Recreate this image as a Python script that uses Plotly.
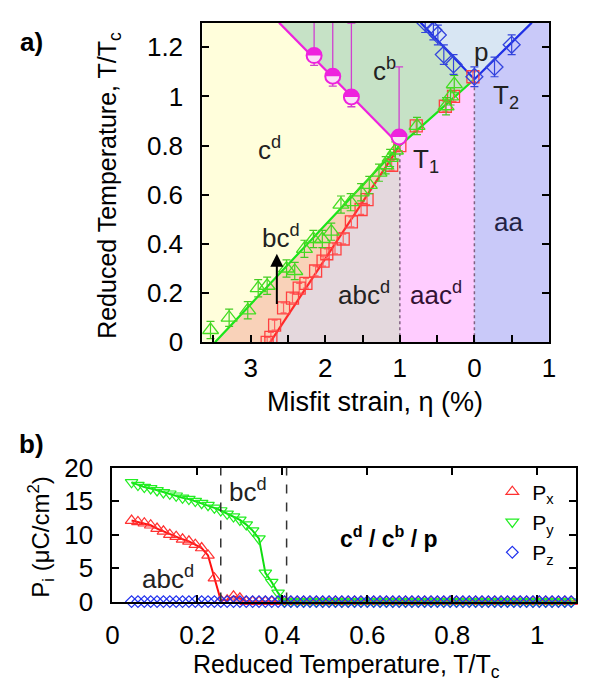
import numpy as np
import plotly.graph_objects as go

FONT = "Liberation Sans, Arial, sans-serif"
W, H = 595, 697

# ---------------- panel (a): phase diagram ----------------
ETA_MIN, ETA_MAX, T_MAX = -3.65, 1.0, 1.3

# phase boundaries (misfit strain eta, reduced temperature T/Tc)
green_eta = [-3.48, -1.0, 0.0]
green_T = [0.0, 0.80, 1.07]
red_eta = [-2.74, -1.0]
red_T = [0.0, 0.80]
mag_eta = [-2.62, -1.0]
mag_T = [1.30, 0.80]
blue_eta = [-0.72, 0.0, 0.77]
blue_T = [1.30, 1.07, 1.30]

# simulation points
g_eta = [-3.54, -3.29, -3.04, -2.90, -2.78, -2.52, -2.41, -2.28, -2.16, -2.04, -1.92, -1.79,
         -1.66, -1.52, -1.41, -1.28, -1.19, -1.13, -1.06, -0.77, -0.38, -0.32, -0.27]
g_T = [0.05, 0.10, 0.13, 0.22, 0.23, 0.30, 0.29, 0.38, 0.42, 0.42, 0.45, 0.56,
       0.57, 0.61, 0.64, 0.69, 0.72, 0.75, 0.78, 0.88, 0.96, 1.00, 1.05]
r_eta = [-2.78, -2.73, -2.68, -2.56, -2.44, -2.35, -2.26, -2.13, -2.03, -1.98, -1.87,
         -1.76, -1.65, -1.52, -1.44, -1.11, -1.00, -0.78, -0.39, -0.28, -0.02]
r_T = [0.00, 0.02, 0.07, 0.14, 0.18, 0.22, 0.24, 0.29, 0.33, 0.36, 0.38,
       0.42, 0.49, 0.54, 0.58, 0.72, 0.80, 0.88, 0.96, 1.00, 1.08]
b_eta = [-0.66, -0.55, -0.49, -0.41, -0.28, 0.00, 0.27, 0.50]
b_T = [1.30, 1.27, 1.25, 1.17, 1.13, 1.08, 1.12, 1.21]
m_eta = [-2.15, -1.90, -1.65, -1.01]
m_T = [1.166, 1.082, 0.998, 0.835]
m_err_up = [0.30, 0.30, 0.30, 0.285]
m_err_dn = [0.04, 0.04, 0.04, 0.02]

eta_ticks = [-3, -2, -1, 0, 1]
eta_ticktext = ["3", "2", "1", "0", "1"]
T_ticks = [0, 0.2, 0.4, 0.6, 0.8, 1.0, 1.2]
T_ticktext = ["0", "0.2", "0.4", "0.6", "0.8", "1", "1.2"]

# ---------------- panel (b): polarization vs temperature ----------------
T_red = [0.045, 0.060, 0.075, 0.090, 0.105, 0.120, 0.135, 0.150, 0.165, 0.180,
         0.195, 0.210, 0.225, 0.240, 0.255, 0.270, 0.285, 0.300, 0.315, 0.330,
         0.345, 0.360, 0.375, 0.390, 0.405, 0.420, 0.435, 0.450, 0.465, 0.480,
         0.495, 0.510, 0.525, 0.540, 0.555, 0.570, 0.585, 0.600, 0.615, 0.630,
         0.645, 0.660, 0.675, 0.690, 0.705, 0.720, 0.735, 0.750, 0.765, 0.780,
         0.795, 0.810, 0.825, 0.840, 0.855, 0.870, 0.885, 0.900, 0.915, 0.930,
         0.945, 0.960, 0.975, 0.990, 1.005, 1.020, 1.035, 1.050, 1.065, 1.080,
         1.095]
Px = [12.1, 11.9, 11.7, 11.4, 10.9, 10.5, 10.0, 9.7, 9.3, 9.0,
      8.5, 8.0, 6.9, 3.5, 0.2, 0.2, 0.8, 0.5] + [0.0] * 53
Py = [17.8, 17.4, 17.1, 16.9, 16.6, 16.3, 16.1, 15.8, 15.5, 15.3,
      15.0, 14.7, 14.4, 14.0, 13.6, 13.1, 12.7, 12.2, 11.5, 10.6,
      9.4, 4.3, 2.9, 1.3] + [0.0] * 47
Pz = [0.0] * 71
phase_edges_b = [0.255, 0.41]

RED, GREEN, BLUE, MAG = "#ff2a2a", "#19e619", "#1f2fe6", "#ee22dd"

# plot-area geometry in pixels (used for domains and marker half-disks)
A_L, A_R, A_T, A_B = 200, 555, 8, 342
B_L, B_R, B_T, B_B = 108, 583, 473, 613

fig = go.Figure()

# ---- phase regions ----
Jx, Jy = green_eta[1], green_T[1]
Px0, Py0 = blue_eta[1], blue_T[1]
regions = [
    ("#fffedb", [ETA_MIN, green_eta[0], Jx, mag_eta[0], ETA_MIN], [0, 0, Jy, T_MAX, T_MAX]),
    ("#f9d2b9", [green_eta[0], red_eta[0], Jx], [0, 0, Jy]),
    ("#e4d8dd", [red_eta[0], Jx, Jx], [0, 0, Jy]),
    ("#ffccff", [Jx, Px0, Px0, Jx], [0, 0, Py0, Jy]),
    ("#c9c9f9", [Px0, ETA_MAX, ETA_MAX, blue_eta[2], Px0], [0, 0, T_MAX, T_MAX, Py0]),
    ("#d8e6f3", [blue_eta[0], Px0, blue_eta[2]], [T_MAX, Py0, T_MAX]),
    ("#c6e2c6", [mag_eta[0], Jx, Px0, blue_eta[0]], [T_MAX, Jy, Py0, T_MAX]),
]
for col, xs, ys in regions:
    fig.add_trace(go.Scatter(x=xs, y=ys, fill="toself", fillcolor=col, mode="lines",
                             line=dict(width=0), hoverinfo="skip", showlegend=False,
                             xaxis="x", yaxis="y"))

# dotted vertical boundaries
for xv, yv in [(Jx, Jy), (Px0, Py0)]:
    fig.add_trace(go.Scatter(x=[xv, xv], y=[0, yv], mode="lines",
                             line=dict(color="#806080", width=1.5, dash="dot"),
                             showlegend=False, xaxis="x", yaxis="y"))

# boundary lines
for xs, ys, col in [(red_eta, red_T, RED), (green_eta, green_T, GREEN),
                    (mag_eta, mag_T, MAG), (blue_eta, blue_T, BLUE)]:
    fig.add_trace(go.Scatter(x=xs, y=ys, mode="lines", line=dict(color=col, width=2.2),
                             showlegend=False, xaxis="x", yaxis="y"))

# data points with error bars
fig.add_trace(go.Scatter(x=r_eta, y=r_T, mode="markers",
                         marker=dict(symbol="square-open", size=12, color="#ff4040", line=dict(width=1.3)),
                         error_y=dict(type="constant", value=0.02, color="#ff6060", thickness=1.2, width=3),
                         showlegend=False, xaxis="x", yaxis="y"))
fig.add_trace(go.Scatter(x=g_eta, y=g_T, mode="markers",
                         marker=dict(symbol="triangle-up-open", size=14, color="#44dd22", line=dict(width=1.3)),
                         error_y=dict(type="constant", value=0.035, color="#44cc22", thickness=1.2, width=4),
                         showlegend=False, xaxis="x", yaxis="y"))
fig.add_trace(go.Scatter(x=b_eta, y=b_T, mode="markers",
                         marker=dict(symbol="diamond-open", size=13, color="#3344dd", line=dict(width=1.3)),
                         error_y=dict(type="constant", value=0.04, color="#3344dd", thickness=1.2, width=4),
                         showlegend=False, xaxis="x", yaxis="y"))
fig.add_trace(go.Scatter(x=m_eta, y=m_T, mode="markers",
                         marker=dict(symbol="circle", size=15, color="#fbe0f7",
                                     line=dict(color=MAG, width=2)),
                         error_y=dict(type="data", array=m_err_up, arrayminus=m_err_dn,
                                      color="#d040d0", thickness=1.3, width=4),
                         showlegend=False, xaxis="x", yaxis="y"))
# upper half of each magenta symbol is solid
r_px = 8.0
rx = r_px * (ETA_MAX - ETA_MIN) / (A_R - A_L)
ry = r_px * T_MAX / (A_B - A_T)
th = np.linspace(0, np.pi, 25)
for xe, yt in zip(m_eta, m_T):
    fig.add_trace(go.Scatter(x=xe + rx * np.cos(th), y=yt + ry * np.sin(th), fill="toself",
                             fillcolor=MAG, mode="lines", line=dict(width=0),
                             hoverinfo="skip", showlegend=False, xaxis="x", yaxis="y"))

# ---- panel (b) traces ----
fig.add_trace(go.Scatter(x=T_red, y=Px, mode="lines", line=dict(color="#ff1010", width=2),
                         showlegend=False, xaxis="x2", yaxis="y2", cliponaxis=False))
fig.add_trace(go.Scatter(x=T_red, y=Py, mode="lines", line=dict(color="#10dd10", width=2),
                         showlegend=False, xaxis="x2", yaxis="y2", cliponaxis=False))
fig.add_trace(go.Scatter(x=T_red, y=Px, mode="markers", name="P<sub>x</sub>",
                         marker=dict(symbol="triangle-up-open", size=11, color="#ff3030", line=dict(width=1.2)),
                         xaxis="x2", yaxis="y2", cliponaxis=False))
fig.add_trace(go.Scatter(x=T_red, y=Py, mode="markers", name="P<sub>y</sub>",
                         marker=dict(symbol="triangle-down-open", size=11, color="#22ee22", line=dict(width=1.2)),
                         xaxis="x2", yaxis="y2", cliponaxis=False))
fig.add_trace(go.Scatter(x=T_red, y=Pz, mode="markers", name="P<sub>z</sub>",
                         marker=dict(symbol="diamond-open", size=9, color="#2233ee", line=dict(width=1.2)),
                         xaxis="x2", yaxis="y2", cliponaxis=False))

shapes = []
for xv in phase_edges_b:
    shapes.append(dict(type="line", xref="x2", yref="y2 domain", x0=xv, x1=xv, y0=0, y1=1,
                       line=dict(color="#333333", width=1.5, dash="dash")))

LBL = 26
def lab(text, x, y, color="#222222", size=LBL, xref="x", yref="y", **kw):
    return dict(text=text, x=x, y=y, xref=xref, yref=yref, showarrow=False,
                xanchor="center", yanchor="middle",
                font=dict(family=FONT, size=size, color=color), **kw)

annotations = [
    lab("c<sup>d</sup>", -2.75, 0.79),
    lab("c<sup>b</sup>", -1.2, 1.11),
    lab("p", 0.09, 1.18),
    lab("T<sub>2</sub>", 0.42, 1.0),
    lab("T<sub>1</sub>", -0.65, 0.74),
    lab("aa", 0.46, 0.49, color="#222244"),
    lab("aac<sup>d</sup>", -0.52, 0.2, color="#331133"),
    lab("abc<sup>d</sup>", -1.48, 0.2),
    lab("bc<sup>d</sup>", -2.6, 0.43),
    dict(x=-2.65, y=0.36, ax=-2.65, ay=0.15, xref="x", yref="y", axref="x", ayref="y",
         showarrow=True, arrowhead=2, arrowsize=1.3, arrowwidth=2, arrowcolor="black", text=""),
    # panel (b) labels
    lab("bc<sup>d</sup>", 0.32, 16.6, xref="x2", yref="y2"),
    lab("abc<sup>d</sup>", 0.13, 3.6, xref="x2", yref="y2"),
    lab("<b>c<sup>d</sup> / c<sup>b</sup> / p</b>", 0.65, 9.7, color="black", size=23, xref="x2", yref="y2"),
    # axis titles and panel tags
    lab("Reduced Temperature, T/T<sub>c</sub>", 105 / W, 1 - 178 / H, color="black", size=25,
        xref="paper", yref="paper", textangle=-90),
    lab("Misfit strain, η (%)", 377 / W, 1 - 404 / H, color="black", size=27, xref="paper", yref="paper"),
    lab("P<sub>i</sub> (μC/cm<sup>2</sup>)", 34 / W, 1 - 545 / H, color="black", size=24,
        xref="paper", yref="paper", textangle=-90),
    lab("Reduced Temperature, T/T<sub>c</sub>", 348 / W, 1 - 680 / H, color="black", size=25,
        xref="paper", yref="paper"),
    lab("<b>a)</b>", 25 / W, 1 - 28 / H, color="black", size=26, xref="paper", yref="paper"),
    lab("<b>b)</b>", 25 / W, 1 - 448 / H, color="black", size=26, xref="paper", yref="paper"),
]

axis_common = dict(showline=True, linecolor="black", linewidth=2, ticks="inside", ticklen=7,
                   tickwidth=1.5, tickcolor="black", showgrid=False, zeroline=False,
                   tickfont=dict(family=FONT, size=26, color="black"))

fig.update_layout(
    width=W, height=H, margin=dict(l=0, r=0, t=0, b=0),
    paper_bgcolor="white", plot_bgcolor="white",
    font=dict(family=FONT, color="black"),
    xaxis=dict(domain=[A_L / W, A_R / W], range=[ETA_MIN, ETA_MAX], tickvals=eta_ticks,
               ticktext=eta_ticktext, mirror=True, anchor="y", ticklabelstandoff=2,
               minor=dict(ticks="inside", ticklen=7, tickwidth=1.5, tickcolor="black",
                          tick0=0, dtick=0.5, showgrid=False),
               **axis_common),
    yaxis=dict(domain=[1 - A_B / H, 1 - A_T / H], range=[0, T_MAX], tickvals=T_ticks,
               ticktext=T_ticktext, mirror="ticks", anchor="x", ticklabelstandoff=12, **axis_common),
    xaxis2=dict(domain=[B_L / W, B_R / W], range=[0, 1.092], tickvals=[0, 0.2, 0.4, 0.6, 0.8, 1.0],
                ticktext=["0", "0.2", "0.4", "0.6", "0.8", "1"], mirror="ticks", anchor="y2",
                ticklabelstandoff=9, **axis_common),
    yaxis2=dict(domain=[1 - B_B / H, 1 - B_T / H], range=[0, 20], tickvals=[0, 5, 10, 15, 20],
                mirror="ticks", anchor="x2", ticklabelstandoff=12, **axis_common),
    legend=dict(x=497 / W, y=1 - 477 / H, xanchor="left", yanchor="top", bgcolor="rgba(0,0,0,0)",
                font=dict(family=FONT, size=21, color="black"), itemwidth=30, tracegroupgap=0),
    shapes=shapes,
    annotations=annotations,
)

fig.write_html("out.html")
